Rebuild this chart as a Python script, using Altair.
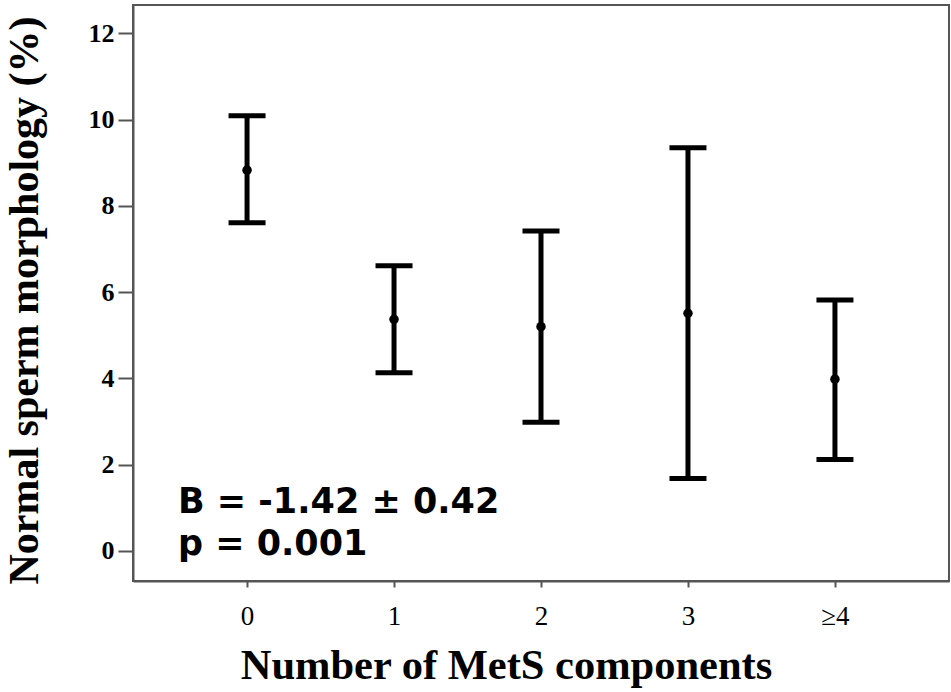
import altair as alt
import pandas as pd

# Number of MetS components (4 means "4 or more")
components = [0, 1, 2, 3, 4]
means = [8.83, 5.37, 5.20, 5.51, 3.98]
lower = [7.61, 4.13, 2.98, 1.68, 2.12]
upper = [10.09, 6.61, 7.42, 9.35, 5.82]

# Regression annotation, placed in data units
note_lines = ["B = -1.42 \u00b1 0.42", "p = 0.001"]
note_x = [-0.47, -0.47]
note_y = [0.88, -0.10]

df = pd.DataFrame({"n": components, "mean": means, "lo": lower, "hi": upper})
notes = pd.DataFrame({"text": note_lines, "x": note_x, "y": note_y})

x_scale = alt.Scale(domain=[-0.776, 4.776], nice=False, zero=False)
y_scale = alt.Scale(domain=[-0.70, 12.66], nice=False, zero=False)

x_axis = alt.Axis(
    title="Number of MetS components",
    values=components,
    format="d",
    labelExpr="datum.value == 4 ? '\u22654' : format(datum.value, 'd')",
    labelPadding=16,
    tickSize=6,
    titleX=373,
    titleY=97,
)

y_axis = alt.Axis(
    title="Normal sperm morphology (%)",
    values=[0, 2, 4, 6, 8, 10, 12],
    format="d",
    labelPadding=4,
    tickSize=15,
    titleAngle=270,
    titleX=-96,
    titleY=295,
)


def xe(field):
    return alt.X(field, scale=x_scale, axis=x_axis)


def ye(field):
    return alt.Y(field, scale=y_scale, axis=y_axis)


base = alt.Chart(df)

bars = base.mark_rule(color="black", strokeWidth=5).encode(
    x=xe("n:Q"),
    y=ye("lo:Q"),
    y2="hi:Q",
)

cap_lo = base.mark_tick(color="black", orient="horizontal", size=37, thickness=5, opacity=1).encode(
    x=xe("n:Q"),
    y=ye("lo:Q"),
)

cap_hi = base.mark_tick(color="black", orient="horizontal", size=37, thickness=5, opacity=1).encode(
    x=xe("n:Q"),
    y=ye("hi:Q"),
)

dots = base.mark_circle(color="black", size=90, opacity=1).encode(
    x=xe("n:Q"),
    y=ye("mean:Q"),
)

text = alt.Chart(notes).mark_text(
    align="left",
    baseline="alphabetic",
    font="DejaVu Sans",
    fontSize=35,
    fontWeight="bold",
    color="black",
).encode(
    x=xe("x:Q"),
    y=ye("y:Q"),
    text="text:N",
)

chart = (
    alt.layer(bars, cap_lo, cap_hi, dots, text)
    .properties(
        width=816,
        height=576,
        autosize=alt.AutoSizeParams(type="none"),
        padding={"left": 133, "top": 5, "right": 2, "bottom": 111},
        background="white",
    )
    .configure_view(stroke="#555", strokeWidth=2)
    .configure_axis(
        grid=False,
        domainColor="#555",
        domainWidth=2,
        tickColor="#555",
        tickWidth=2,
        labelColor="#000",
        labelFont="Liberation Serif",
        titleFont="Liberation Serif",
        titleColor="#000",
        titleFontWeight="bold",
        titleBaseline="alphabetic",
        titleAlign="center",
    )
    .configure_axisX(labelFontSize=27, labelFontWeight="normal", titleFontSize=42.5)
    .configure_axisY(labelFontSize=26, labelFontWeight="bold", titleFontSize=42)
)

chart.save("out.html", embed_options={"renderer": "svg", "actions": False})
